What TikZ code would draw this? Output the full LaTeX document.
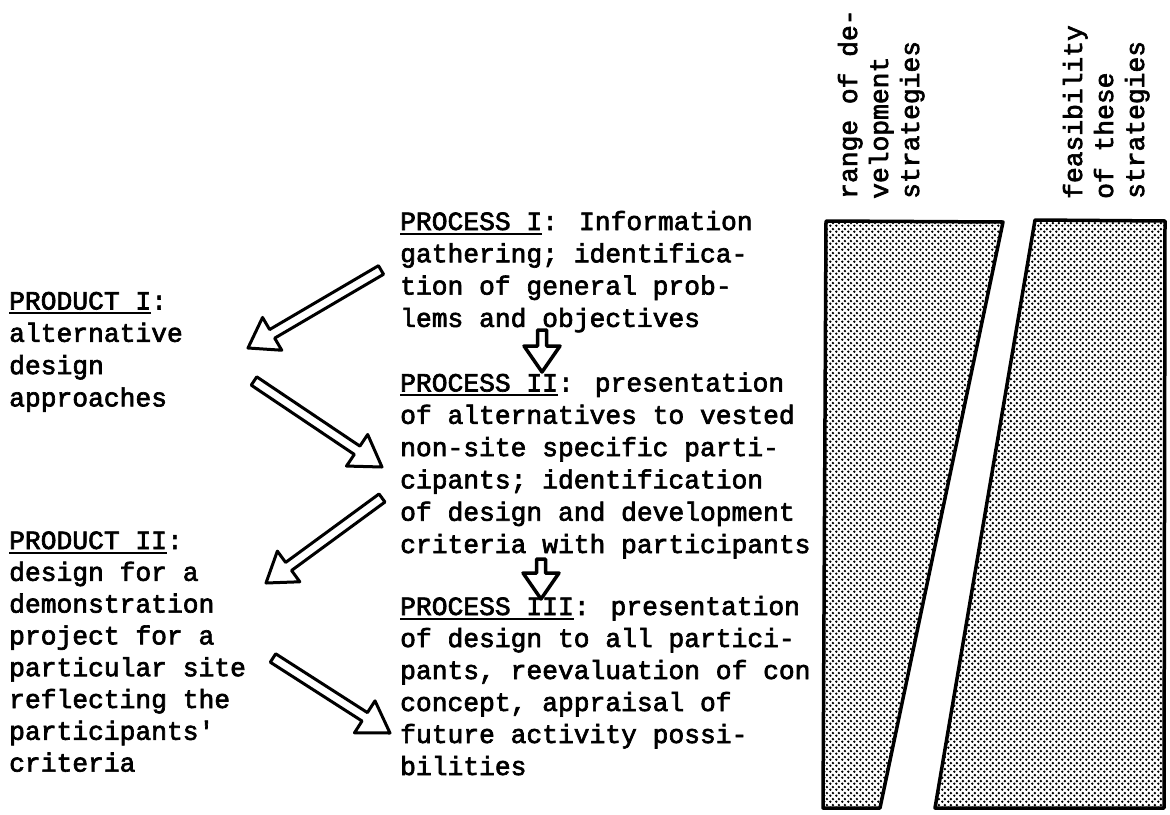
\documentclass[tikz,border=0pt]{standalone}
\usepackage{fontspec}
\usetikzlibrary{calc,patterns.meta}
\newfontfamily\typew{Liberation Mono}[FakeBold=2.5]

% underlined heading word with a typewriter-style rule
\newcommand{\ulin}[1]{\setbox0\hbox{#1}\rlap{\rule[-4.5pt]{\wd0}{2pt}}\box0}

% halftone screen for the two strategy bars
\tikzdeclarepattern{
  name=halftone,
  type=uncolored,
  bounding box={(0pt,0pt) and (5.6pt,5.6pt)},
  tile size={(5.6pt,5.6pt)},
  code={
    \pgfpathcircle{\pgfpoint{1.4pt}{1.4pt}}{1.45pt}
    \pgfpathcircle{\pgfpoint{4.2pt}{4.2pt}}{1.45pt}
    \pgfusepath{fill}
  }
}

\tikzset{
  tline/.style={anchor=base west, inner sep=0pt, font=\typew\fontsize{26.3pt}{32pt}\selectfont},
  vline/.style={tline, rotate=90},
  panel/.style={draw=black, line width=3.5pt, line join=round, pattern=halftone, pattern color=black},
  harrow/.style={draw=black, fill=white, line width=3pt, line join=round, line cap=round},
}

% hand-drawn hollow arrow: [style] tail, tip, shaft half width, head length, head half width
\newcommand{\hollowarrow}[6][]{%
  \coordinate (hb) at ($(#3)!#5!(#2)$);
  \path[harrow,#1] ($(#2)!#4!90:(#3)$) -- ($(hb)!#4!90:(#3)$) -- ($(hb)!#6!90:(#3)$)
    -- (#3) -- ($(hb)!#6!-90:(#3)$) -- ($(hb)!#4!-90:(#3)$) -- ($(#2)!#4!-90:(#3)$) -- cycle;
}

\begin{document}
\begin{tikzpicture}[x=1pt,y=-1pt]
\useasboundingbox (0,0) rectangle (1170,814);
\fill[white] (0,0) rectangle (1170,814);

% strategy bars
\path[panel] (826,221) -- (1003,222) -- (880,808) -- (823,808) -- cycle;
\path[panel] (1035,220) -- (1165,221) -- (1164,808) -- (935,808) -- cycle;

% bar headings (rotated)
\node[vline] (ra) at (857,199) {range of de-};
\node[vline] (rb) at (888,199) {velopment};
\node[vline] (rc) at (919,199) {strategies};
\node[vline] (fa) at (1082,199) {feasibility};
\node[vline] (fb) at (1113,199) {of these};
\node[vline] (fc) at (1144,199) {strategies};

% products
\node[tline] (pa0) at (9,309.5) {\ulin{PRODUCT I}:};
\node[tline] (pa1) at (9,341.8) {alternative};
\node[tline] (pa2) at (9,374.1) {design};
\node[tline] (pa3) at (9,406.4) {approaches};

\node[tline] (pb0) at (9,549.0) {\ulin{PRODUCT II}:};
\node[tline] (pb1) at (9,580.8) {design for a};
\node[tline] (pb2) at (9,612.6) {demonstration};
\node[tline] (pb3) at (9,644.4) {project for a};
\node[tline] (pb4) at (9,676.2) {particular site};
\node[tline] (pb5) at (9,708.0) {reflecting the};
\node[tline] (pb6) at (9,739.8) {participants\textquotesingle};
\node[tline] (pb7) at (9,771.6) {criteria};

% processes
\node[tline] (qa0) at (400,230.0) {\ulin{PROCESS I}: Information};
\node[tline] (qa1) at (400,262.3) {gathering; identifica-};
\node[tline] (qa2) at (400,294.6) {tion of general prob-};
\node[tline] (qa3) at (400,326.9) {lems and objectives};

\node[tline] (qb0) at (400,391.5) {\ulin{PROCESS II}: presentation};
\node[tline] (qb1) at (400,423.8) {of alternatives to vested};
\node[tline] (qb2) at (400,456.1) {non-site specific parti-};
\node[tline] (qb3) at (400,488.4) {cipants; identification};
\node[tline] (qb4) at (400,520.7) {of design and development};
\node[tline] (qb5) at (400,553.0) {criteria with participants};

\node[tline] (qc0) at (400,615.0) {\ulin{PROCESS III}: presentation};
\node[tline] (qc1) at (400,647.0) {of design to all partici-};
\node[tline] (qc2) at (400,679.0) {pants, reevaluation of con};
\node[tline] (qc3) at (400,711.0) {concept, appraisal of};
\node[tline] (qc4) at (400,743.0) {future activity possi-};
\node[tline] (qc5) at (400,775.0) {bilities};

% arrow end points
\coordinate (a1) at (381,270);  \coordinate (a2) at (248,348);
\coordinate (b1) at (254,381);  \coordinate (b2) at (382,467);
\coordinate (c1) at (382,498);  \coordinate (c2) at (266,583);
\coordinate (d1) at (273,658);  \coordinate (d2) at (390,733);
\coordinate (e1) at (542,330);  \coordinate (e2) at (542,372);
\coordinate (f1) at (541,559);  \coordinate (f2) at (541,599);

\hollowarrow{a1}{a2}{5pt}{28pt}{19pt}
\hollowarrow{b1}{b2}{5pt}{30pt}{19pt}
\hollowarrow{c1}{c2}{5pt}{28pt}{19pt}
\hollowarrow{d1}{d2}{5pt}{30pt}{19pt}
\hollowarrow[line width=3.5pt]{e1}{e2}{4.5pt}{26pt}{18pt}
\hollowarrow[line width=3.5pt]{f1}{f2}{4.5pt}{26pt}{18pt}
\end{tikzpicture}
\end{document}
